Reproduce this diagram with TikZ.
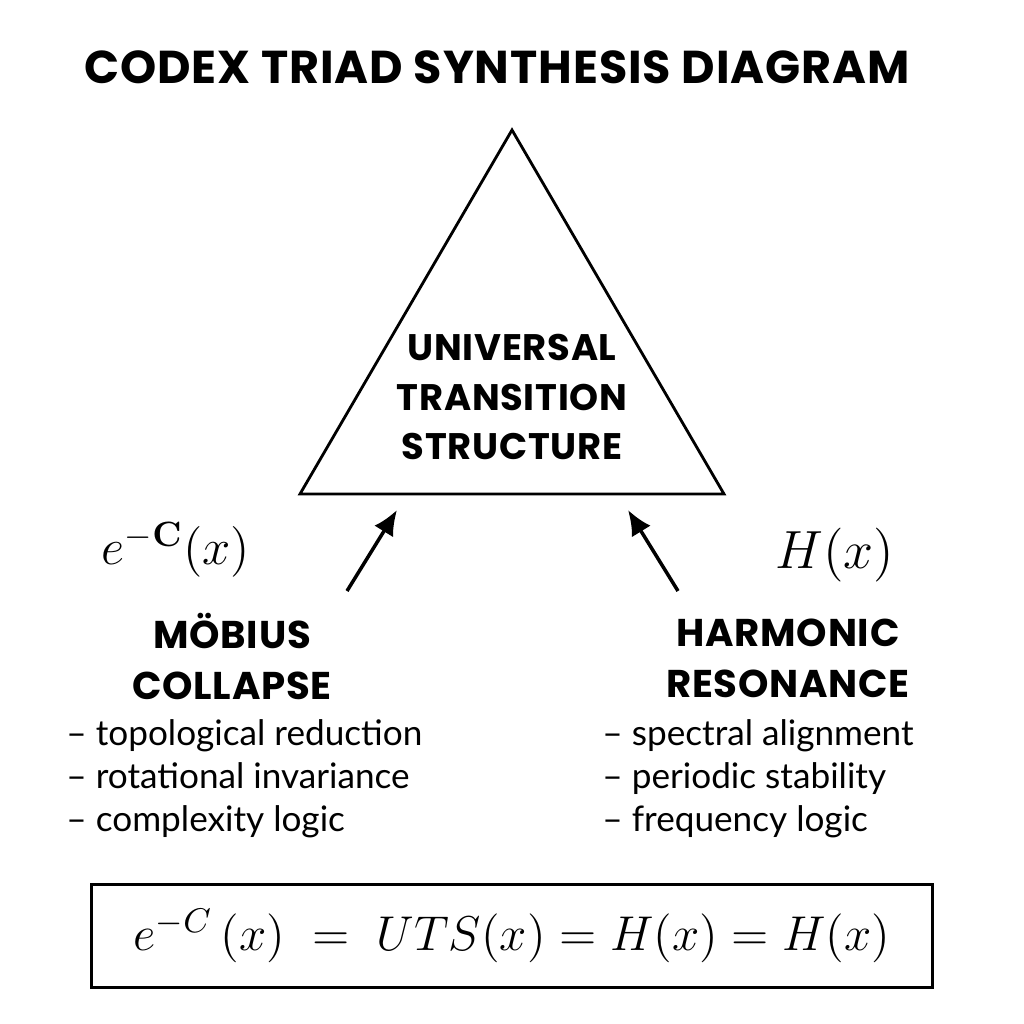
\RequirePackage{fix-cm}
\documentclass[tikz,border=0pt]{standalone}
\usepackage[no-math]{fontspec}
\setmainfont{Lato}
\newfontfamily\headfont{Poppins}[LetterSpace=2]
\usetikzlibrary{arrows.meta}
\begin{document}
\begin{tikzpicture}[x=0.01cm,y=-0.01cm,
  title/.style={font=\headfont\bfseries\fontsize{13.1}{15}\selectfont},
  label/.style={font=\headfont\bfseries\fontsize{10.5}{14}\selectfont, align=center},
  head/.style={font=\headfont\bfseries\fontsize{11}{14.5}\selectfont, align=center},
  items/.style={font=\fontsize{10}{12.2}\selectfont, align=left, anchor=west},
  arr/.style={-{Latex[length=2.5mm,width=2.2mm]}, line width=1pt}]
\useasboundingbox (0,0) rectangle (1024,1024);
\node[title] (title) at (497,67) {CODEX TRIAD SYNTHESIS DIAGRAM};
% triangle
\coordinate (apex) at (512,130);
\coordinate (bl) at (300,494);
\coordinate (br) at (724,494);
\draw[line width=0.8pt] (apex) -- (bl) -- (br) -- cycle;
\node[label] (uts) at (512,397) {UNIVERSAL\\TRANSITION\\STRUCTURE};
% left side
\node (ml) at (176,550) {\fontsize{14.4}{16}\selectfont $e^{-\mathbf{C}}(x)$};
\node[head] (mobius) at (232,656) {MÖBIUS\\COLLAPSE};
\node[items] (mlist) at (54,779) {-- topological reduction\\-- rotational invariance\\-- complexity logic};
\coordinate (mtail) at (347,591);
\coordinate (mtip) at (397,510);
\draw[arr] (mtail) -- (mtip);
% right side
\node (hl) at (835,555) {\fontsize{15.3}{18}\selectfont $H(x)$};
\node[head] (harm) at (788,658) {HARMONIC\\RESONANCE};
\node[items] (hlist) at (590,779) {-- spectral alignment\\-- periodic stability\\-- frequency logic};
\coordinate (htail) at (678,591);
\coordinate (htip) at (628,510);
\draw[arr] (htail) -- (htip);
% identity box
\node[draw, line width=0.8pt, minimum width=8.4cm, minimum height=1.03cm] (eq) at (512,936)
  {\fontsize{13.9}{18}\selectfont $e^{-C}\,(x) \;=\; UTS(x) = H(x) = H(x)$};
\end{tikzpicture}
\end{document}
